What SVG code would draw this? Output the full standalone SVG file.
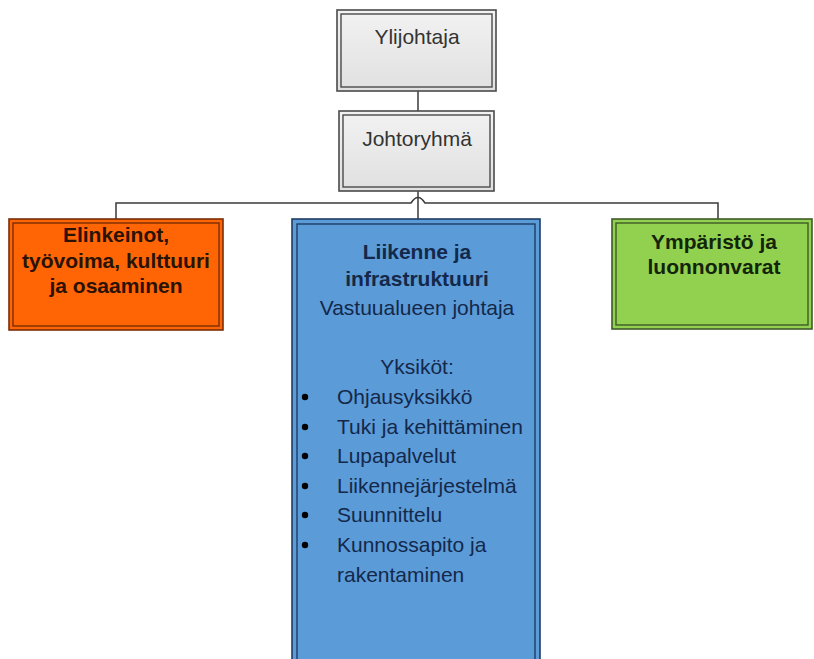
<svg xmlns="http://www.w3.org/2000/svg" width="814" height="659" viewBox="0 0 814 659">
<defs>
<linearGradient id="gray" x1="0" y1="0" x2="0" y2="1">
<stop offset="0" stop-color="#f2f2f2"/>
<stop offset="1" stop-color="#e0e0e0"/>
</linearGradient>
<style>
text{font-family:"Liberation Sans",Arial,sans-serif;font-size:21px;text-anchor:middle}
.b{font-weight:bold}
.outer{stroke-width:1.6}
.inner{fill:none;stroke-width:1.4}
.conn{fill:none;stroke:#3a3a3a;stroke-width:1.5}
.gray .outer{fill:url(#gray)}
.gray .outer,.gray .inner{stroke:#4a4a4a}
.gray text{fill:#333}
.orange .outer{fill:#ff6505}
.orange .outer,.orange .inner{stroke:#7a2e05}
.orange text{fill:#2a1205}
.green .outer{fill:#92d14f}
.green .outer,.green .inner{stroke:#3f5a28}
.green text{fill:#13240a}
.blue .outer{fill:#5b9bd8}
.blue .outer,.blue .inner{stroke:#1f3d63}
.blue text{fill:#14284a}
.bl text{text-anchor:start}
.dot{fill:#000}
</style>
</defs>
<rect width="814" height="659" fill="#ffffff"/>
<g id="connectors">
<path class="conn" d="M418,91 V111"/>
<path class="conn" d="M418,191 V219"/>
<path class="conn" d="M116,219 V203 H411 Q418,192 425,203 H718 V219"/>
</g>
<g id="ylijohtaja" class="gray">
<rect class="outer" x="337" y="10" width="159" height="81"/>
<rect class="inner" x="341" y="14" width="151" height="73"/>
<text x="417" y="44">Ylijohtaja</text>
</g>
<g id="johtoryhma" class="gray">
<rect class="outer" x="339" y="111" width="155" height="80"/>
<rect class="inner" x="343" y="115" width="147" height="72"/>
<text x="417" y="146">Johtoryhmä</text>
</g>
<g id="elinkeinot" class="orange">
<rect class="outer" x="9" y="219" width="214" height="111"/>
<rect class="inner" x="13" y="223" width="206" height="103"/>
<text class="b" x="116" y="242">Elinkeinot,</text>
<text class="b" x="116" y="268">työvoima, kulttuuri</text>
<text class="b" x="116" y="293">ja osaaminen</text>
</g>
<g id="liikenne" class="blue">
<rect class="outer" x="292" y="219" width="248" height="445"/>
<rect class="inner" x="297" y="224" width="238" height="440"/>
<text class="b" x="417" y="259">Liikenne ja</text>
<text class="b" x="417" y="286">infrastruktuuri</text>
<text x="417" y="315">Vastuualueen johtaja</text>
<text x="417" y="374">Yksiköt:</text>
<g class="bl">
<circle class="dot" cx="305" cy="397" r="3.2"/>
<circle class="dot" cx="305" cy="427" r="3.2"/>
<circle class="dot" cx="305" cy="456" r="3.2"/>
<circle class="dot" cx="305" cy="486" r="3.2"/>
<circle class="dot" cx="305" cy="515" r="3.2"/>
<circle class="dot" cx="305" cy="545" r="3.2"/>
<text x="337" y="404">Ohjausyksikkö</text>
<text x="337" y="434">Tuki ja kehittäminen</text>
<text x="337" y="463">Lupapalvelut</text>
<text x="337" y="493">Liikennejärjestelmä</text>
<text x="337" y="522">Suunnittelu</text>
<text x="337" y="552">Kunnossapito ja</text>
<text x="337" y="582">rakentaminen</text>
</g>
</g>
<g id="ymparisto" class="green">
<rect class="outer" x="612" y="219" width="200" height="110"/>
<rect class="inner" x="616" y="223" width="192" height="102"/>
<text class="b" x="714" y="249">Ympäristö ja</text>
<text class="b" x="714" y="274">luonnonvarat</text>
</g>
</svg>
